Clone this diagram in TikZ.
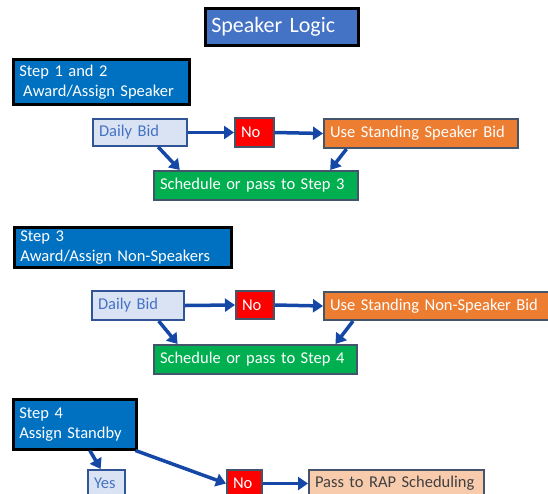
\documentclass[tikz,border=0pt]{standalone}
\usepackage{fontspec}
\setmainfont{Carlito}
\usetikzlibrary{arrows.meta,calc}
\definecolor{titleblue}{HTML}{4472C4}
\definecolor{stepblue}{HTML}{0070C0}
\definecolor{lightblue}{HTML}{DAE3F3}
\definecolor{bidborder}{HTML}{2F5597}
\definecolor{slate}{HTML}{44546A}
\definecolor{noRed}{HTML}{FF0000}
\definecolor{orangeF}{HTML}{ED7D31}
\definecolor{greenF}{HTML}{00B050}
\definecolor{peach}{HTML}{F8CBAD}
\definecolor{arrowblue}{HTML}{1547A6}
\definecolor{darktext}{HTML}{404040}
\tikzset{
  basebox/.style={anchor=north west, inner xsep=6pt, inner ysep=0pt, align=left,
    font=\fontsize{16.5}{20}\selectfont},
  titlebox/.style={basebox, draw=black, line width=2.5pt, fill=titleblue, text=white,
    font=\fontsize{22}{26}\selectfont},
  stepbox/.style={basebox, draw=black, line width=2.5pt, fill=stepblue, text=white},
  bidbox/.style={basebox, draw=bidborder, line width=2pt, fill=lightblue, text=titleblue},
  nobox/.style={basebox, draw=slate, line width=2pt, fill=noRed, text=white},
  usebox/.style={basebox, draw=slate, line width=2pt, fill=orangeF, text=white},
  schedbox/.style={basebox, draw=slate, line width=2pt, fill=greenF, text=white},
  passbox/.style={basebox, draw=slate, line width=2pt, fill=peach, text=darktext},
  flow/.style={draw=arrowblue, line width=3.5pt, -{Triangle[length=10pt,width=13pt]}}
}
\begin{document}
\begin{tikzpicture}[x=1pt,y=-1pt]
\useasboundingbox (0,0) rectangle (548,493);
\clip (0,0) rectangle (548,493);
% title
\node[titlebox, text width=141pt, minimum height=37pt] (title) at (204,7) {Speaker Logic};
% section 1
\node[stepbox, text width=164pt, minimum height=45pt] (s12) at (12,58) {Step 1 and 2\\\hspace*{4pt}Award/Assign Speaker};
\node[bidbox, text width=82pt, minimum height=27pt] (db1) at (92,118) {Daily Bid};
\node[nobox, text width=27pt, minimum height=29pt] (no1) at (234,117) {No};
\node[usebox, text width=182pt, minimum height=29pt] (use1) at (323,118) {Use Standing Speaker Bid};
\node[schedbox, text width=192pt, minimum height=29pt] (sch1) at (153,170) {Schedule or pass to Step 3};
\draw[flow] (db1.east) -- (no1.west);
\draw[flow] (no1.east) -- (use1.west);
\draw[flow] ($(db1.south west)!0.69!(db1.south east)$) -- ($(sch1.north west)!0.13!(sch1.north east)$);
\draw[flow] ($(use1.south west)!0.12!(use1.south east)$) -- ($(sch1.north west)!0.86!(sch1.north east)$);
% section 2
\node[stepbox, text width=205pt, minimum height=40pt] (s3) at (13,226) {Step 3\\Award/Assign Non-Speakers};
\node[bidbox, text width=80pt, minimum height=29pt] (db2) at (91,290) {Daily Bid};
\node[nobox, text width=26pt, minimum height=28pt] (no2) at (235,290) {No};
\node[usebox, text width=217pt, minimum height=28pt] (use2) at (323,291) {Use Standing Non-Speaker Bid};
\node[schedbox, text width=191pt, minimum height=29pt] (sch2) at (153,344) {Schedule or pass to Step 4};
\draw[flow] (db2.east) -- (no2.west);
\draw[flow] (no2.east) -- (use2.west);
\draw[flow] ($(db2.south west)!0.72!(db2.south east)$) -- ($(sch2.north west)!0.12!(sch2.north east)$);
\draw[flow] ($(use2.south west)!0.13!(use2.south east)$) -- ($(sch2.north west)!0.89!(sch2.north east)$);
% section 3
\node[stepbox, text width=111pt, minimum height=50pt] (s4) at (12,398) {Step 4\\Assign Standby};
\node[bidbox, text width=25pt, minimum height=27pt] (yes) at (87,469) {Yes};
\node[nobox, text width=23pt, minimum height=27pt] (no3) at (226,469) {No};
\node[passbox, text width=163pt, minimum height=27pt] (pass) at (308,469) {Pass to RAP Scheduling};
\draw[flow] ($(s4.south west)!0.62!(s4.south east)$) -- ($(yes.north west)!0.35!(yes.north east)$);
\draw[flow] ($(s4.south east)+(-2,0)$) -- (no3.west);
\draw[flow] (no3.east) -- (pass.west);
\end{tikzpicture}
\end{document}
